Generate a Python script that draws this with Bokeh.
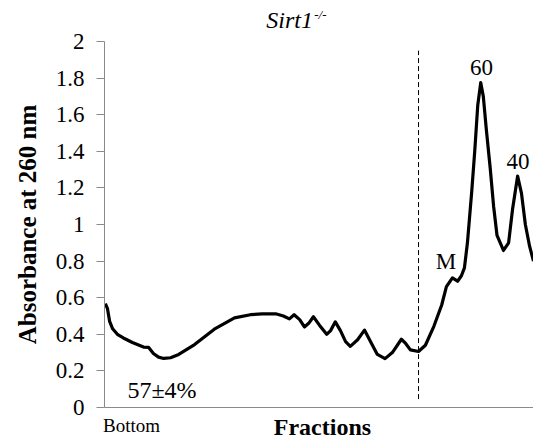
from bokeh.plotting import figure
from bokeh.models import (Range1d, FixedTicker, CustomJSTickFormatter, Label,
                          ColumnDataSource)
from bokeh.embed import file_html
from bokeh.resources import INLINE

# ---- data -------------------------------------------------------------
fraction = [0.2, 0.7, 1.2, 1.9, 3.0, 4.4, 6.5, 9.1, 10.3, 11.4, 12.6, 13.8, 15.4,
            17.3, 21.0, 25.6, 30.3, 34.0, 36.8, 39.9, 41.7, 43.1, 44.2, 45.5, 46.6,
            47.6, 48.7, 50.1, 51.8, 52.7, 53.8, 55.0, 56.2, 57.3, 59.0, 60.6, 62.0,
            63.6, 65.4, 67.1, 69.2, 70.2, 71.3, 73.2, 74.8, 76.8, 78.6, 79.7, 81.1,
            82.3, 83.2, 83.9, 84.6, 85.6, 86.3, 87.0, 87.7, 88.3, 89.0, 89.9, 90.7,
            91.5, 93.0, 94.2, 95.1, 96.3, 97.2, 98.1, 99.1, 100.0]
absorbance = [0.568, 0.54, 0.47, 0.43, 0.40, 0.38, 0.355, 0.33, 0.328, 0.295, 0.275,
              0.268, 0.272, 0.29, 0.344, 0.428, 0.49, 0.507, 0.512, 0.512, 0.50,
              0.484, 0.507, 0.48, 0.44, 0.46, 0.496, 0.45, 0.40, 0.42, 0.468, 0.42,
              0.36, 0.334, 0.37, 0.423, 0.36, 0.29, 0.267, 0.30, 0.373, 0.35, 0.315,
              0.306, 0.34, 0.445, 0.56, 0.66, 0.708, 0.69, 0.72, 0.763, 0.90, 1.18,
              1.40, 1.65, 1.775, 1.70, 1.52, 1.31, 1.10, 0.94, 0.858, 0.90, 1.08,
              1.265, 1.17, 1.00, 0.88, 0.80]
y_ticks = [0, 0.2, 0.4, 0.6, 0.8, 1.0, 1.2, 1.4, 1.6, 1.8, 2.0]
bottom_tick = [6.3]
bottom_label = "Bottom"
divider_fraction = 73.2
peak_labels = ["60", "40", "M"]
peak_label_x = [87.9, 96.4, 79.6]
peak_label_y = [1.856, 1.344, 0.796]
percent_text = "57\u00b14%"

SERIF = "Liberation Serif"
GRAY = "#8a8a8a"

# frame covers the whole canvas; axes are pinned at x=0 / y=0
p = figure(width=533, height=442, output_backend="svg", toolbar_location=None,
           title=None,
           x_range=Range1d(-24.24, 100), y_range=Range1d(-0.1913, 2.224),
           min_border=0)
p.outline_line_color = None
p.xgrid.visible = False
p.ygrid.visible = False
p.background_fill_color = "white"
p.border_fill_color = "white"

# y axis
ya = p.yaxis[0]
ya.fixed_location = 0
ya.bounds = (0, 2)
ya.ticker = FixedTicker(ticks=y_ticks)
ya.formatter = CustomJSTickFormatter(code="return String(Number(tick.toFixed(1)));")
ya.axis_line_color = GRAY
ya.major_tick_line_color = GRAY
ya.major_tick_out = 8
ya.major_tick_in = 0
ya.minor_tick_line_color = None
ya.major_label_standoff = 12
ya.major_label_text_font = SERIF
ya.major_label_text_font_size = "23px"
ya.major_label_text_color = "black"
ya.axis_label = "Absorbance at 260 nm"
ya.axis_label_text_font = SERIF
ya.axis_label_text_font_style = "bold"
ya.axis_label_text_font_size = "25px"
ya.axis_label_text_color = "black"
ya.axis_label_standoff = 12

# x axis
xa = p.xaxis[0]
xa.fixed_location = 0
xa.bounds = (0, 100)
xa.ticker = FixedTicker(ticks=bottom_tick)
xa.formatter = CustomJSTickFormatter(code="return '%s';" % bottom_label)
xa.axis_line_color = GRAY
xa.major_tick_line_color = None
xa.minor_tick_line_color = None
xa.major_label_standoff = 2
xa.major_label_text_font = SERIF
xa.major_label_text_font_size = "19px"
xa.major_label_text_color = "black"

# curve
src = ColumnDataSource(dict(x=fraction, y=absorbance))
p.line("x", "y", source=src, line_color="black", line_width=3.2, line_join="round")

# dashed divider
p.segment(x0=[divider_fraction], y0=[0.046], x1=[divider_fraction], y1=[1.95],
          line_color="black", line_width=1, line_dash="5 3")

# peak labels
for t, lx, ly in zip(peak_labels, peak_label_x, peak_label_y):
    p.add_layout(Label(x=lx, y=ly, text=t, text_align="center",
                       text_baseline="alphabetic", text_font=SERIF,
                       text_font_size="23px", text_color="black"))

p.add_layout(Label(x=13.4, y=0.093, text=percent_text, text_align="center",
                   text_baseline="alphabetic", text_font=SERIF,
                   text_font_size="24px", text_color="black"))

# x axis title
p.add_layout(Label(x=50.8, y=-0.104, text="Fractions", text_align="center",
                   text_baseline="alphabetic", text_font=SERIF,
                   text_font_style="bold", text_font_size="24px",
                   text_color="black"))

# title Sirt1 with superscript
p.add_layout(Label(x=37.7, y=2.120, text="Sirt1", text_align="left",
                   text_baseline="alphabetic", text_font=SERIF,
                   text_font_style="italic", text_font_size="24px",
                   text_color="black"))
p.add_layout(Label(x=48.9, y=2.150, text="-/-", text_align="left",
                   text_baseline="alphabetic", text_font=SERIF,
                   text_font_style="italic", text_font_size="13px",
                   text_color="black"))

open("out.html", "w").write(file_html(p, INLINE))
